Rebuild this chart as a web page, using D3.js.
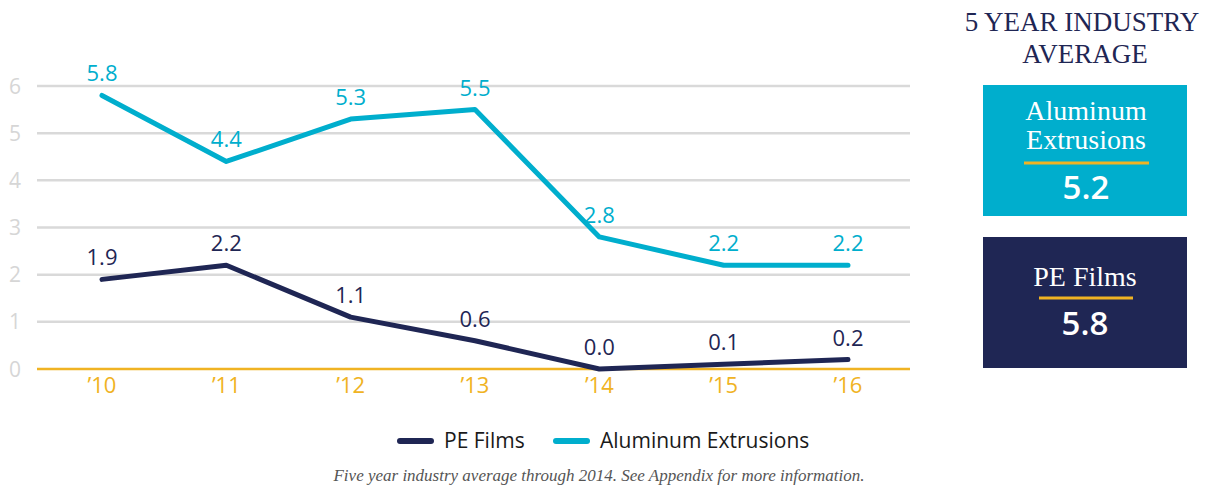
<!DOCTYPE html>
<html>
<head>
<meta charset="utf-8">
<script src="https://cdn.jsdelivr.net/npm/d3@7"></script>
<style>
  body { margin: 0; background: #fff; }
  .sans { font-family: "Open Sans", Lato, sans-serif; }
  .serif { font-family: "Liberation Serif", "DejaVu Serif", serif; }
</style>
</head>
<body>
<script>
var w = 1207, h = 487;

// data
var years = ["’10", "’11", "’12", "’13", "’14", "’15", "’16"];
var peFilms = [1.9, 2.2, 1.1, 0.6, 0.0, 0.1, 0.2];
var aluminum = [5.8, 4.4, 5.3, 5.5, 2.8, 2.2, 2.2];
var yTicks = [0, 1, 2, 3, 4, 5, 6];
var averages = [{name: ["Aluminum", "Extrusions"], value: 5.2}, {name: ["PE Films"], value: 5.8}];

var navy = "#1f2654", teal = "#00aecd", gold = "#f0b323";

var svg = d3.select("body").append("svg")
    .attr("width", w)
    .attr("height", h);

// scales
var x = d3.scalePoint().domain(years).range([102, 848]);
var y = d3.scaleLinear().domain([0, 6]).range([369, 86]);

// grid lines
svg.append("g").selectAll("line")
    .data(yTicks.filter(function(d) { return d > 0; }))
    .enter().append("line")
    .attr("x1", 37).attr("x2", 910)
    .attr("y1", function(d) { return y(d); })
    .attr("y2", function(d) { return y(d); })
    .attr("stroke", "#d9d9d9")
    .attr("stroke-width", 2.5);

// y labels
svg.append("g").selectAll("text")
    .data(yTicks)
    .enter().append("text")
    .attr("class", "sans")
    .attr("x", 15)
    .attr("y", function(d) { return y(d); })
    .attr("dy", "0.36em")
    .attr("text-anchor", "middle")
    .attr("font-size", 21)
    .attr("fill", "#d6d6d6")
    .text(function(d) { return d; });

// zero line
svg.append("line")
    .attr("x1", 37).attr("x2", 910)
    .attr("y1", y(0)).attr("y2", y(0))
    .attr("stroke", gold)
    .attr("stroke-width", 2.5);

// x labels
svg.append("g").selectAll("text")
    .data(years)
    .enter().append("text")
    .attr("class", "sans")
    .attr("x", function(d) { return x(d); })
    .attr("y", 393)
    .attr("text-anchor", "middle")
    .attr("font-size", 22)
    .attr("fill", gold)
    .text(function(d) { return d; });

var line = d3.line()
    .x(function(d, i) { return x(years[i]); })
    .y(function(d) { return y(d); });

function drawSeries(values, color) {
  svg.append("path")
      .datum(values)
      .attr("d", line)
      .attr("fill", "none")
      .attr("stroke", color)
      .attr("stroke-width", 5)
      .attr("stroke-linecap", "round")
      .attr("stroke-linejoin", "round");

  svg.append("g").selectAll("text")
      .data(values)
      .enter().append("text")
      .attr("class", "sans")
      .attr("x", function(d, i) { return x(years[i]); })
      .attr("y", function(d) { return y(d) - 14; })
      .attr("text-anchor", "middle")
      .attr("font-size", 22)
      .attr("fill", color)
      .text(function(d) { return d.toFixed(1); });
}

drawSeries(aluminum, teal);
drawSeries(peFilms, navy);

// legend
var legend = svg.append("g").attr("transform", "translate(0,441)");
var legendItems = [{label: "PE Films", color: navy, x: 397}, {label: "Aluminum Extrusions", color: teal, x: 553}];
legendItems.forEach(function(d) {
  legend.append("line")
      .attr("x1", d.x + 3).attr("x2", d.x + 34)
      .attr("y1", 0).attr("y2", 0)
      .attr("stroke", d.color)
      .attr("stroke-width", 6)
      .attr("stroke-linecap", "round");
  legend.append("text")
      .attr("class", "sans")
      .attr("x", d.x + 47)
      .attr("y", 0)
      .attr("dy", "0.35em")
      .attr("font-size", 21)
      .attr("fill", "#1a1a1a")
      .text(d.label);
});

// footnote
svg.append("text")
    .attr("class", "serif")
    .attr("x", 599)
    .attr("y", 481)
    .attr("text-anchor", "middle")
    .attr("font-size", 17)
    .attr("font-style", "italic")
    .attr("fill", "#555")
    .text("Five year industry average through 2014. See Appendix for more information.");

// right panel
var panel = svg.append("g");
panel.append("text")
    .attr("class", "serif")
    .attr("x", 1082).attr("y", 31)
    .attr("text-anchor", "middle")
    .attr("font-size", 27)
    .attr("fill", navy)
    .text("5 YEAR INDUSTRY");
panel.append("text")
    .attr("class", "serif")
    .attr("x", 1085).attr("y", 63)
    .attr("text-anchor", "middle")
    .attr("font-size", 27)
    .attr("fill", navy)
    .text("AVERAGE");

// box 1 - aluminum
var box1 = panel.append("g").attr("transform", "translate(983,85)");
box1.append("rect").attr("width", 204).attr("height", 131).attr("fill", teal);
box1.append("text").attr("class", "serif").attr("x", 103).attr("y", 35)
    .attr("text-anchor", "middle").attr("font-size", 28).attr("fill", "#fff").text(averages[0].name[0]);
box1.append("text").attr("class", "serif").attr("x", 103).attr("y", 64)
    .attr("text-anchor", "middle").attr("font-size", 28).attr("fill", "#fff").text(averages[0].name[1]);
box1.append("line").attr("x1", 41).attr("x2", 166).attr("y1", 78).attr("y2", 78)
    .attr("stroke", gold).attr("stroke-width", 3);
box1.append("text").attr("class", "sans").attr("x", 103).attr("y", 114)
    .attr("text-anchor", "middle").attr("font-size", 33).attr("font-weight", 600)
    .attr("fill", "#fff").text(averages[0].value.toFixed(1));

// box 2 - PE films
var box2 = panel.append("g").attr("transform", "translate(983,237)");
box2.append("rect").attr("width", 204).attr("height", 131).attr("fill", navy);
box2.append("text").attr("class", "serif").attr("x", 102).attr("y", 49)
    .attr("text-anchor", "middle").attr("font-size", 28).attr("fill", "#fff").text(averages[1].name[0]);
box2.append("line").attr("x1", 56).attr("x2", 150).attr("y1", 61).attr("y2", 61)
    .attr("stroke", gold).attr("stroke-width", 3);
box2.append("text").attr("class", "sans").attr("x", 102).attr("y", 98)
    .attr("text-anchor", "middle").attr("font-size", 33).attr("font-weight", 600)
    .attr("fill", "#fff").text(averages[1].value.toFixed(1));
</script>
</body>
</html>
